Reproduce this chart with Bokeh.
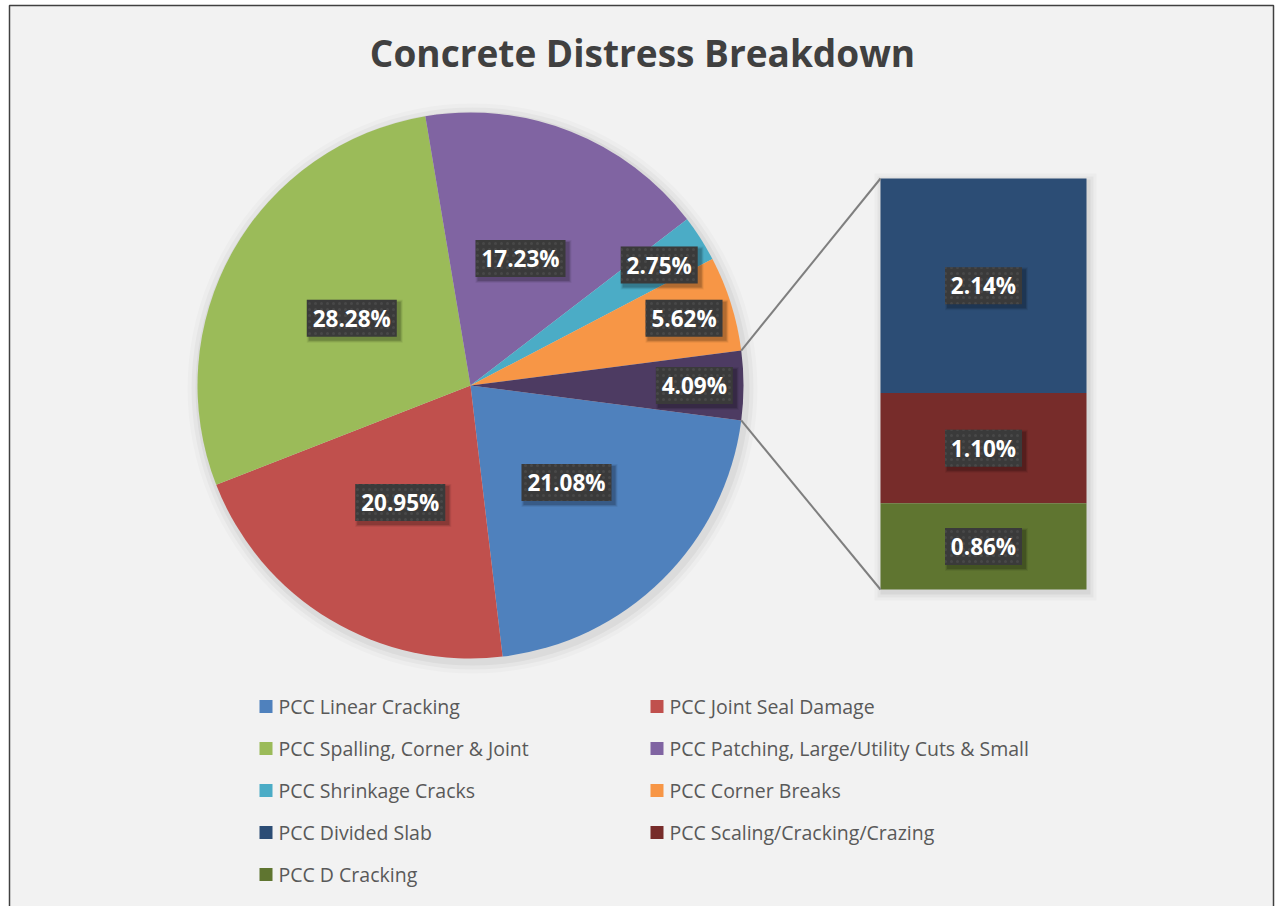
import math
from bokeh.plotting import figure
from bokeh.models import Range1d, ColumnDataSource, Label
from bokeh.core.properties import value
from bokeh.embed import file_html
from bokeh.resources import INLINE

# ---------------- data ----------------
chart_title = "Concrete Distress Breakdown"
main_categories = [
    "PCC Linear Cracking",
    "PCC Joint Seal Damage",
    "PCC Spalling, Corner & Joint",
    "PCC Patching, Large/Utility Cuts & Small",
    "PCC Shrinkage Cracks",
    "PCC Corner Breaks",
]
main_values = [21.08, 20.95, 28.28, 17.23, 2.75, 5.62]
other_value = 4.09
sub_categories = ["PCC Divided Slab", "PCC Scaling/Cracking/Crazing", "PCC D Cracking"]
sub_values = [2.14, 1.10, 0.86]

main_colors = ["#4f81bd", "#c0504d", "#9bbb59", "#8064a2", "#4bacc6", "#f79646"]
other_color = "#4d3b62"
sub_colors = ["#2c4d75", "#772c2a", "#5f7530"]

FONT = "Open Sans"

# ---------------- figure ----------------
W, H = 1275, 906
p = figure(width=W, height=H, x_range=Range1d(0, W), y_range=Range1d(0, H),
           output_backend="svg", toolbar_location=None, min_border=0)
p.axis.visible = False
p.xgrid.visible = False
p.ygrid.visible = False
p.background_fill_color = "white"
p.border_fill_color = "white"
p.outline_line_color = None

# chart area panel
p.quad(left=[9], right=[1273], top=[H - 5], bottom=[-10],
       fill_color="#f2f2f2", line_color="#404040", line_width=1.5)

# ---------------- pie ----------------
cx, cy, R = 470, H - 385, 273
pie_values = main_values + [other_value]
total = sum(pie_values)
angs = [v / total * 2 * math.pi for v in pie_values]
half_other = angs[-1] / 2

starts, ends = [], []
a = -half_other
for i in range(len(main_values)):
    hi = a
    lo = a - angs[i]
    starts.append(lo)
    ends.append(hi)
    a = lo
starts.append(-half_other)
ends.append(half_other)

# soft shadow
for k, al in [(12, 0.02), (8, 0.03), (4, 0.045)]:
    p.circle(x=[cx + 2], y=[cy - 3], radius=R + k, fill_color="black", fill_alpha=al, line_color=None)

pie_src = ColumnDataSource(dict(
    x=[cx] * len(pie_values), y=[cy] * len(pie_values),
    start=starts, end=ends, color=main_colors + [other_color]))
p.wedge(x="x", y="y", radius=R, start_angle="start", end_angle="end",
        direction="anticlock", fill_color="color", line_color=None, source=pie_src)

# ---------------- bar of "other" ----------------
bx0, bx1, btop, bbot = 880, 1086, H - 178, H - 589
scale = (btop - bbot) / sum(sub_values)
tops, bots = [], []
cum = 0.0
for v in sub_values:
    t = btop - cum * scale
    b = t - v * scale
    tops.append(t)
    bots.append(b)
    cum += v
# bar shadow
for k, al in [(8, 0.025), (5, 0.035), (2, 0.05)]:
    p.quad(left=[bx0 - k + 2], right=[bx1 + k + 2], top=[btop + k - 3], bottom=[bbot - k - 3],
           fill_color="black", fill_alpha=al, line_color=None)
p.quad(left=[bx0] * 3, right=[bx1] * 3, top=tops, bottom=bots,
       fill_color=sub_colors, line_color=None)

# connector lines
ex_t = (cx + R * math.cos(half_other), cy + R * math.sin(half_other))
ex_b = (cx + R * math.cos(-half_other), cy + R * math.sin(-half_other))
p.segment(x0=[ex_t[0], ex_b[0]], y0=[ex_t[1], ex_b[1]], x1=[bx0, bx0], y1=[btop, bbot],
          line_color="#7f7f7f", line_width=2)

# ---------------- data labels ----------------
lx, ly, lt = [], [], []
for i, v in enumerate(pie_values):
    mid = (starts[i] + ends[i]) / 2
    rf = 0.5 if v >= 10 else 0.82
    lx.append(cx + rf * R * math.cos(mid))
    ly.append(cy + rf * R * math.sin(mid))
    lt.append(f"{v:.2f}%")
bxc = (bx0 + bx1) / 2
for i, v in enumerate(sub_values):
    lx.append(bxc)
    ly.append((tops[i] + bots[i]) / 2)
    lt.append(f"{v:.2f}%")
bw = [12 + 13 * len(t) for t in lt]
bh = 37
lab_src = ColumnDataSource(dict(x=lx, y=ly, t=lt, w=bw))
for k, al in [(6, 0.06), (4, 0.1), (2, 0.15)]:
    p.rect(x=[x + 3 for x in lx], y=[y - 3 for y in ly], width=[w + k for w in bw], height=bh + k,
           fill_color="black", fill_alpha=al, line_color=None)
p.rect(x="x", y="y", width="w", height=bh, fill_color="#3a3a3a", line_color=None,
       hatch_pattern=".", hatch_color="#555555", hatch_scale=6, hatch_weight=1, hatch_alpha=0.5,
       source=lab_src)
p.text(x="x", y="y", text="t", text_align="center", text_baseline="middle",
       text_color="white", text_font=value(FONT), text_font_size="22.5px",
       text_font_style="bold", source=lab_src)

# ---------------- title ----------------
p.add_layout(Label(x=642, y=H - 52, text=chart_title, text_align="center", text_baseline="middle",
                   text_font=FONT, text_font_size="37px", text_font_style="bold",
                   text_color="#404040"))

# ---------------- legend ----------------
leg_names = main_categories + sub_categories
leg_colors = main_colors + sub_colors
col_x = [259, 650]
row_y0, row_step, sq = H - 706, 42, 13
gx, gy, tx = [], [], []
for i in range(len(leg_names)):
    c, r = i % 2, i // 2
    gx.append(col_x[c] + sq / 2)
    gy.append(row_y0 - r * row_step)
    tx.append(col_x[c] + sq + 6)
leg_src = ColumnDataSource(dict(gx=gx, gy=gy, tx=tx, name=leg_names, color=leg_colors))
p.rect(x="gx", y="gy", width=sq, height=sq, fill_color="color", line_color=None, source=leg_src)
p.text(x="tx", y="gy", text="name", text_align="left", text_baseline="middle",
       text_color="#595959", text_font=value(FONT), text_font_size="19.5px", source=leg_src)

open("out.html", "w").write(file_html(p, INLINE))
